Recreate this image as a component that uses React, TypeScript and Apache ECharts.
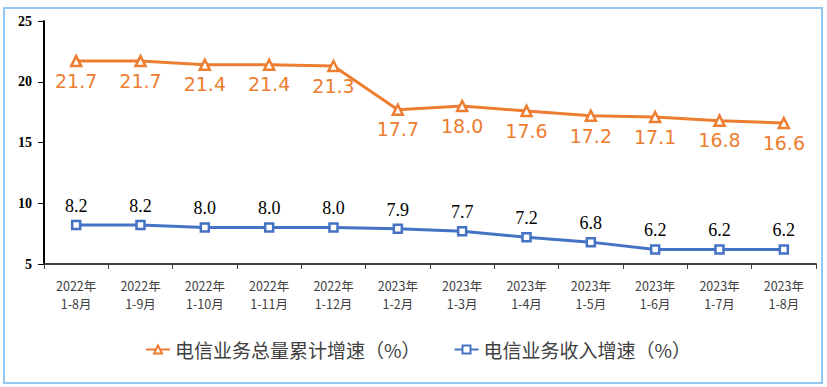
import React, { useEffect, useRef } from "react";
import * as echarts from "echarts";

const categories = [
  "2022年\n1-8月", "2022年\n1-9月", "2022年\n1-10月", "2022年\n1-11月", "2022年\n1-12月",
  "2023年\n1-2月", "2023年\n1-3月", "2023年\n1-4月", "2023年\n1-5月", "2023年\n1-6月",
  "2023年\n1-7月", "2023年\n1-8月",
];
const totalVolumeGrowth = [21.7, 21.7, 21.4, 21.4, 21.3, 17.7, 18.0, 17.6, 17.2, 17.1, 16.8, 16.6];
const revenueGrowth = [8.2, 8.2, 8.0, 8.0, 8.0, 7.9, 7.7, 7.2, 6.8, 6.2, 6.2, 6.2];
const seriesNames = ["电信业务总量累计增速（%）", "电信业务收入增速（%）"];

export default function App() {
  const ref = useRef<HTMLDivElement>(null);
  useEffect(() => {
    if (!ref.current) return;
    const chart = echarts.init(ref.current, null, { renderer: "svg" });
    chart.setOption({
      animation: false,
      backgroundColor: "#ffffff",
      graphic: [
        {
          type: "rect",
          shape: { x: 4, y: 8, width: 818, height: 375 },
          style: { fill: "none", stroke: "#94c6f2", lineWidth: 2 },
          silent: true,
        },
      ],
      grid: { left: 44, right: 11, top: 21, bottom: 123 },
      legend: {
        left: 140,
        top: 335,
        itemWidth: 24,
        itemHeight: 10,
        itemGap: 33,
        textStyle: { fontSize: 19, color: "#404040", fontFamily: "Noto Sans CJK SC" },
        data: seriesNames,
      },
      xAxis: {
        type: "category",
        data: categories,
        boundaryGap: true,
        axisLine: { lineStyle: { color: "#404040", width: 2 } },
        axisTick: { show: true, length: 5, inside: false, lineStyle: { color: "#404040", width: 1 } },
        axisLabel: {
          fontSize: 12.5,
          lineHeight: 18,
          margin: 12,
          color: "#404040",
          fontFamily: "Noto Sans CJK SC",
          interval: 0,
        },
      },
      yAxis: {
        type: "value",
        min: 5,
        max: 25,
        interval: 5,
        splitLine: { show: false },
        axisLine: { show: true, lineStyle: { color: "#000000", width: 2 } },
        axisTick: { show: true, length: 6, lineStyle: { color: "#000000", width: 1 } },
        axisLabel: {
          fontSize: 14,
          fontWeight: "bold",
          color: "#000000",
          fontFamily: "Liberation Serif",
          margin: 12,
        },
      },
      series: [
        {
          name: seriesNames[0],
          type: "line",
          data: totalVolumeGrowth,
          symbol: "triangle",
          symbolSize: 10,
          lineStyle: { color: "#ED7D31", width: 3 },
          itemStyle: { color: "#ffffff", borderColor: "#ED7D31", borderWidth: 2.5 },
          label: {
            show: true,
            position: "bottom",
            distance: 4,
            color: "#ED7D31",
            fontSize: 19,
            fontFamily: "DejaVu Sans",
            formatter: (p: any) => p.value.toFixed(1),
          },
        },
        {
          name: seriesNames[1],
          type: "line",
          data: revenueGrowth,
          symbol: "rect",
          symbolSize: 8,
          lineStyle: { color: "#4472C4", width: 3 },
          itemStyle: { color: "#ffffff", borderColor: "#4472C4", borderWidth: 2.5 },
          label: {
            show: true,
            position: "top",
            distance: 5,
            color: "#000000",
            fontSize: 18,
            fontFamily: "Liberation Serif",
            formatter: (p: any) => p.value.toFixed(1),
          },
        },
      ],
    });
    return () => chart.dispose();
  }, []);
  return (
    <div
      ref={ref}
      style={{ position: "fixed", left: 0, top: 0, width: 827, height: 387 }}
    />
  );
}
